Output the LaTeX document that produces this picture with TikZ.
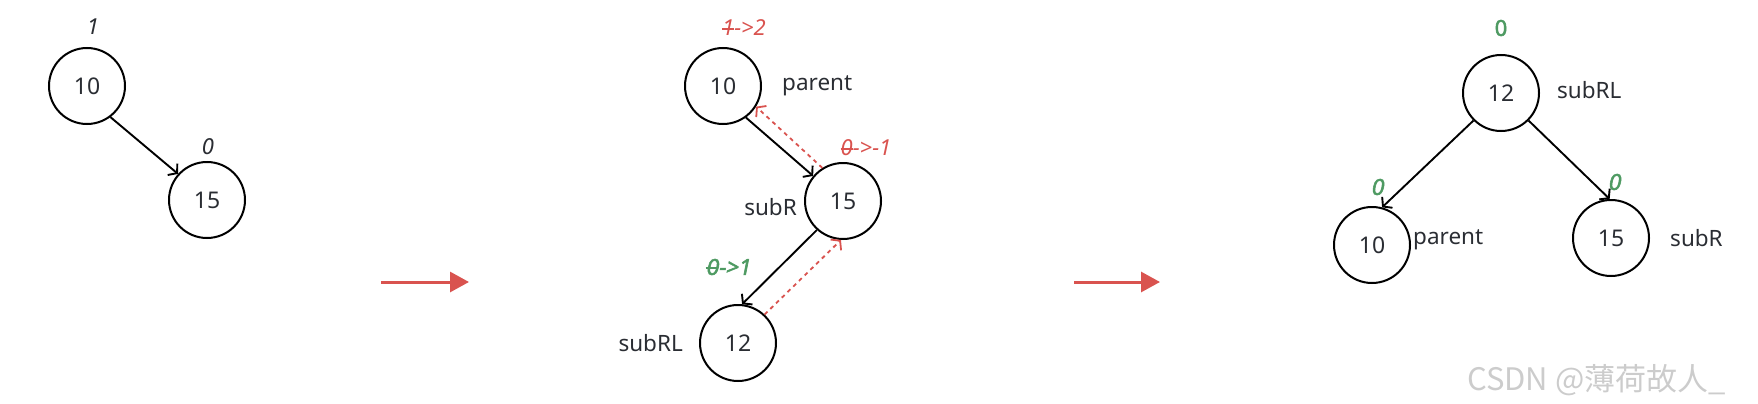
\documentclass[tikz,border=0pt]{standalone}
\usepackage{fontspec}
\setmainfont[AutoFakeBold=2.5]{Noto Sans}
\newfontfamily\bolditfont[FakeBold=2.5, FakeSlant=0.2]{Noto Sans}
\newfontfamily\cjkfont{Noto Sans CJK SC}
\usetikzlibrary{arrows.meta}
\definecolor{redc}{HTML}{D9534F}
\definecolor{greenc}{HTML}{4E9A62}
\definecolor{inkc}{HTML}{2A2D33}
\definecolor{markc}{HTML}{CCCCCC}
\newcommand\strikeit[1]{\setbox0\hbox{#1}\rlap{\raisebox{0.28em}{\rule{\wd0}{0.07em}}}#1}
\begin{document}
\begin{tikzpicture}[x=1pt,y=-1pt,
  tnode/.style={circle, draw=black, line width=2pt, minimum size=76pt, inner sep=0pt,
    font=\fontsize{23}{23}\selectfont, text=inkc},
  lbl/.style={font=\fontsize{22.5}{22.5}\selectfont, text=inkc, inner sep=0pt},
  bal/.style={font=\fontsize{22}{22}\selectfont\itshape, text=inkc, inner sep=0pt},
  redbal/.style={font=\fontsize{22}{22}\selectfont\itshape, text=redc, inner sep=0pt},
  greenbal/.style={font=\bolditfont\fontsize{22}{22}\selectfont, text=greenc, inner sep=0pt},
  greenup/.style={font=\fontsize{22}{22}\selectfont\bfseries, text=greenc, inner sep=0pt},
  edgeline/.style={draw=black, line width=1.9pt, -{Straight Barb[length=6pt,width=15pt,line width=1.9pt]}},
  dashline/.style={draw=redc, line width=1.8pt, dash pattern=on 4pt off 4pt,
    -{Straight Barb[length=6pt,width=15pt,line width=1.8pt]}},
  bigarrow/.style={draw=redc, line width=3pt, -{Triangle[length=19pt,width=20pt]}}
]
\path[use as bounding box] (0,0) rectangle (1758,404);

% left tree
\node[tnode] (a10) at (87,86) {10};
\node[tnode] (a15) at (207,200) {15};
\node[bal] (a10b) at (93,27) {1};
\node[bal] (a15b) at (208,147) {0};
\draw[edgeline] (a10.-53) -- (a15.138);

% arrow 1
\coordinate (r1s) at (381,282);
\coordinate (r1e) at (469,282);
\draw[bigarrow] (r1s) -- (r1e);

% middle tree
\node[tnode] (b10) at (723,86) {10};
\node[tnode] (b15) at (843,201) {15};
\node[tnode] (b12) at (738,343) {12};
\node[redbal] (b10b) at (744,28) {\strikeit{1}->2};
\node[redbal] (b15b) at (866,148) {\strikeit{0}->-1};
\node[greenbal] (b12b) at (728,267) {\strikeit{0}->1};
\node[lbl, anchor=west] (b10l) at (782,86) {parent};
\node[lbl, anchor=east] (b15l) at (797,207) {subR};
\node[lbl, anchor=east] (b12l) at (683,343) {subRL};
\draw[edgeline] (b10.-54) -- (b15.140);
\draw[dashline] (b15.122) -- (b10.-32);
\draw[edgeline] (b15.228) -- (b12.84);
\draw[dashline] (b12.47) -- (b15.267);

% arrow 2
\coordinate (r2s) at (1074,282);
\coordinate (r2e) at (1160,282);
\draw[bigarrow] (r2s) -- (r2e);

% right tree
\node[tnode] (c12) at (1501,93) {12};
\node[tnode] (c10) at (1372,245) {10};
\node[tnode] (c15) at (1611,238) {15};
\node[greenup] (c12b) at (1501,28) {0};
\node[greenbal] (c10b) at (1377,187) {0};
\node[greenbal] (c15b) at (1614,182) {0};
\node[lbl, anchor=west] (c12l) at (1557,90) {subRL};
\node[lbl, anchor=west] (c10l) at (1413,240) {parent};
\node[lbl, anchor=west] (c15l) at (1670,238) {subR};
\draw[edgeline] (c12.-135) -- (c10.75);
\draw[edgeline] (c12.-45) -- (c15.92);

% watermark
\node[anchor=west, inner sep=0pt, text=markc, font=\cjkfont\fontsize{31}{31}\selectfont] (wm) at (1467,380) {CSDN @薄荷故人\_};
\end{tikzpicture}
\end{document}
